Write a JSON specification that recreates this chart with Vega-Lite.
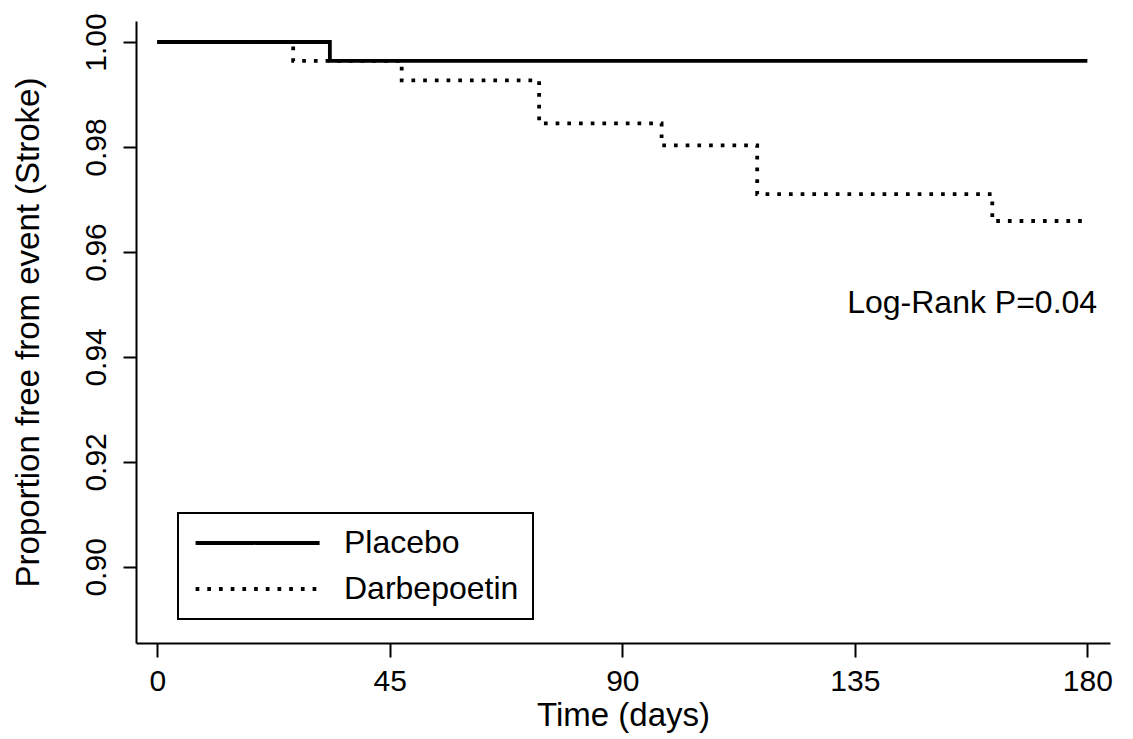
{
  "$schema": "https://vega.github.io/schema/vega-lite/v6.json",
  "width": 974,
  "height": 622,
  "autosize": {"type": "none"},
  "padding": {"left": 136, "top": 21, "right": 23, "bottom": 96},
  "background": "white",
  "config": {
    "view": {"stroke": null},
    "font": "Liberation Sans",
    "axis": {
      "domainColor": "black",
      "domainWidth": 2,
      "tickColor": "black",
      "tickWidth": 2,
      "grid": false,
      "labelColor": "black",
      "labelFont": "Liberation Sans",
      "titleFont": "Liberation Sans",
      "titleColor": "black",
      "titleFontWeight": "normal"
    },
    "legend": {
      "strokeColor": "black",
      "strokeWidth": 2
    }
  },
  "layer": [
    {
      "data": {
        "values": [
          {"group": "Placebo", "time": 0, "surv": 1.0},
          {"group": "Placebo", "time": 33.4, "surv": 0.9964},
          {"group": "Placebo", "time": 180, "surv": 0.9964},
          {"group": "Darbepoetin", "time": 0, "surv": 1.0},
          {"group": "Darbepoetin", "time": 26.3, "surv": 0.9964},
          {"group": "Darbepoetin", "time": 47.3, "surv": 0.9927},
          {"group": "Darbepoetin", "time": 73.9, "surv": 0.9845},
          {"group": "Darbepoetin", "time": 97.6, "surv": 0.9803},
          {"group": "Darbepoetin", "time": 116.1, "surv": 0.971},
          {"group": "Darbepoetin", "time": 161.6, "surv": 0.9659},
          {"group": "Darbepoetin", "time": 179, "surv": 0.9659}
        ]
      },
      "mark": {"type": "line", "interpolate": "step-after", "color": "black", "strokeWidth": 3.8, "strokeCap": "butt"},
      "encoding": {
        "x": {
          "field": "time",
          "type": "quantitative",
          "scale": {"domain": [-4.12, 184.38], "nice": false, "zero": false},
          "axis": {
            "values": [0, 45, 90, 135, 180],
            "tickSize": 14,
            "labelFontSize": 30,
            "labelPadding": 9,
            "title": "Time (days)",
            "titleFontSize": 33,
            "titlePadding": 3
          }
        },
        "y": {
          "field": "surv",
          "type": "quantitative",
          "scale": {"domain": [0.8855, 1.004], "nice": false, "zero": false},
          "axis": {
            "values": [0.9, 0.92, 0.94, 0.96, 0.98, 1.0],
            "format": ".2f",
            "tickSize": 13,
            "labelAngle": 270,
            "labelAlign": "center",
            "labelBaseline": "bottom",
            "labelFontSize": 30,
            "labelPadding": 12,
            "title": "Proportion free from event (Stroke)",
            "titleFontSize": 33,
            "titlePadding": 36
          }
        },
        "strokeDash": {
          "field": "group",
          "type": "nominal",
          "scale": {"domain": ["Placebo", "Darbepoetin"], "range": [[1, 0], [3.7, 8]]},
          "legend": {
            "title": null,
            "orient": "none",
            "legendX": 42,
            "legendY": 492,
            "symbolType": "M-1,0H9",
            "symbolSize": 615,
            "symbolStrokeWidth": 3.8,
            "symbolStrokeColor": "black",
            "labelFontSize": 32,
            "labelColor": "black",
            "labelOffset": 120,
            "labelLimit": 400,
            "labelExpr": "datum.label + '\u00a0'",
            "padding": 14,
            "rowPadding": 14
          }
        }
      }
    },
    {
      "data": {"values": [{"label": "Log-Rank P=0.04"}]},
      "mark": {"type": "text", "fontSize": 32, "align": "center", "baseline": "alphabetic", "color": "black"},
      "encoding": {
        "x": {"datum": 157.7, "type": "quantitative"},
        "y": {"datum": 0.9483, "type": "quantitative"},
        "text": {"field": "label", "type": "nominal"}
      }
    }
  ]
}
